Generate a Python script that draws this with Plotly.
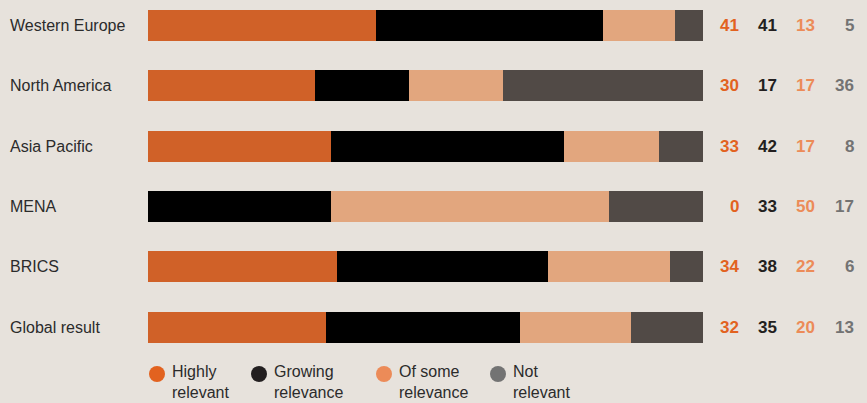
import plotly.graph_objects as go

regions = ["Western Europe", "North America", "Asia Pacific", "MENA", "BRICS", "Global result"]
highly = [41, 30, 33, 0, 34, 32]
growing = [41, 17, 42, 33, 38, 35]
some = [13, 17, 17, 50, 22, 20]
not_rel = [5, 36, 8, 17, 6, 13]

series = [
    ("Highly<br>relevant", highly, "#d06128", "#e2621f"),
    ("Growing<br>relevance", growing, "#000000", "#231f20"),
    ("Of some<br>relevance", some, "#e2a67e", "#ec8b58"),
    ("Not<br>relevant", not_rel, "#514a46", "#737373"),
]

BG = "#e7e2dc"
FONT = "Liberation Sans Narrow, Arial Narrow, Liberation Sans, Arial, sans-serif"

W, H = 867, 403
ML, MR, MT, MB = 148, 164, 0, 53
plot_w = W - ML - MR
plot_h = H - MT - MB

fig = go.Figure()
for name, vals, bar_col, _ in series:
    fig.add_trace(go.Bar(
        y=list(range(len(regions))), x=vals, orientation="h", name=name,
        marker=dict(color=bar_col, line=dict(width=0)), width=0.514,
        showlegend=False, hoverinfo="skip",
    ))

def px_to_paper_x(px):
    return (px - ML) / plot_w

def px_to_paper_y(py):
    return 1 - (py - MT) / plot_h

annotations = []
# region labels on the left
for i, r in enumerate(regions):
    annotations.append(dict(
        x=px_to_paper_x(8), xref="paper", y=i, yref="y", text=r,
        xanchor="left", yanchor="middle", showarrow=False,
        font=dict(family=FONT, size=16, color="#2b2b2b"),
    ))

# value columns on the right
col_right = [741, 779, 817, 856]
for (name, vals, _, txt_col), cx in zip(series, col_right):
    for i, v in enumerate(vals):
        annotations.append(dict(
            x=px_to_paper_x(cx), xref="paper", y=i, yref="y",
            text="<b>%d</b>" % v, xanchor="right", yanchor="middle",
            showarrow=False, font=dict(family=FONT, size=17, color=txt_col),
        ))

# legend drawn below the bars
shapes = []
legend_dot_x = [157, 259, 384, 498]
legend_dot_y = 374
r = 8
for (name, _, _, txt_col), dx in zip(series, legend_dot_x):
    shapes.append(dict(
        type="circle", xref="paper", yref="paper",
        x0=px_to_paper_x(dx - r), x1=px_to_paper_x(dx + r),
        y0=px_to_paper_y(legend_dot_y + r), y1=px_to_paper_y(legend_dot_y - r),
        fillcolor=txt_col, line=dict(width=0),
    ))
    annotations.append(dict(
        x=px_to_paper_x(dx + 13), xref="paper", y=px_to_paper_y(361), yref="paper",
        text=name, xanchor="left", yanchor="top", align="left", showarrow=False,
        font=dict(family=FONT, size=16, color="#2b2b2b"),
    ))

fig.update_layout(
    width=W, height=H, barmode="stack",
    paper_bgcolor=BG, plot_bgcolor=BG,
    margin=dict(l=ML, r=MR, t=MT, b=MB, pad=0),
    xaxis=dict(range=[0, 100], visible=False, fixedrange=True),
    yaxis=dict(range=[5.381, -0.423], visible=False, fixedrange=True),
    annotations=annotations, shapes=shapes,
    bargap=0,
)

fig.write_html("out.html", config={"displayModeBar": False})
